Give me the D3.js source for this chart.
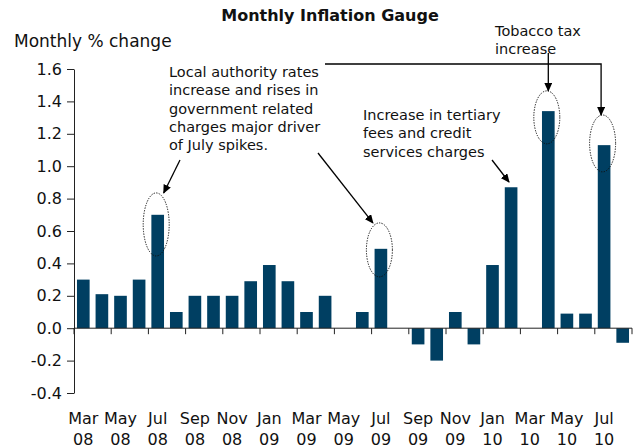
<!DOCTYPE html>
<html>
<head>
<meta charset="utf-8">
<script src="https://cdn.jsdelivr.net/npm/d3@7"></script>
<style>
  body { margin: 0; background: #fff; }
  text { font-family: "DejaVu Sans", Verdana, sans-serif; fill: #111; }
</style>
</head>
<body>
<script>
// monthly % change, Mar 08 .. Aug 10
var months = ["Mar 08","Apr 08","May 08","Jun 08","Jul 08","Aug 08","Sep 08","Oct 08","Nov 08","Dec 08",
              "Jan 09","Feb 09","Mar 09","Apr 09","May 09","Jun 09","Jul 09","Aug 09","Sep 09","Oct 09",
              "Nov 09","Dec 09","Jan 10","Feb 10","Mar 10","Apr 10","May 10","Jun 10","Jul 10","Aug 10"];
var values = [0.30, 0.21, 0.20, 0.30, 0.70, 0.10, 0.20, 0.20, 0.20, 0.29,
              0.39, 0.29, 0.10, 0.20, 0.00, 0.10, 0.49, 0.00, -0.10, -0.20,
              0.10, -0.10, 0.39, 0.87, 0.00, 1.34, 0.09, 0.09, 1.13, -0.09];
var yTicks = [-0.4, -0.2, 0.0, 0.2, 0.4, 0.6, 0.8, 1.0, 1.2, 1.4, 1.6];
var xLabelMonths = months.filter((m, i) => i % 2 == 0);

// highlighted spikes: month, top and bottom of the dotted ring (in % units)
var rings = [
    {month: "Jul 08", top: 0.835, bottom: 0.446},
    {month: "Jul 09", top: 0.650, bottom: 0.317},
    {month: "Apr 10", top: 1.465, bottom: 1.138},
    {month: "Jul 10", top: 1.316, bottom: 0.965}
];

const width = 634;
const height = 448;
const left = 74, right = 632;

var data = months.map((m, i) => ({month: m, value: values[i]}));

var svg = d3.select('body')
            .append('svg')
            .attr('width', width)
            .attr('height', height);

const xScale = d3.scaleBand()
                .domain(months)
                .range([left, right])
                .paddingInner(0.32)
                .paddingOuter(0.16);

const yScale = d3.scaleLinear()
                .domain([-0.4, 1.6])
                .range([393, 69]);

const step = xScale.step();
const mid = (m) => xScale(m) + xScale.bandwidth() / 2;

// arrow head
svg.append('defs').append('marker')
    .attr('id', 'head')
    .attr('markerUnits', 'userSpaceOnUse')
    .attr('markerWidth', 9)
    .attr('markerHeight', 8)
    .attr('refX', 8)
    .attr('refY', 4)
    .attr('orient', 'auto')
  .append('path')
    .attr('d', 'M0,0 L9,4 L0,8 Z')
    .attr('fill', '#000');

// title
svg.append('text')
    .attr('x', 330)
    .attr('y', 21)
    .attr('text-anchor', 'middle')
    .style('font-weight', 'bold')
    .style('font-size', '16px')
    .text('Monthly Inflation Gauge');

// y-axis label
svg.append('text')
    .attr('x', 14)
    .attr('y', 47)
    .style('font-size', '17px')
    .text('Monthly % change');

// bars
svg.append('g')
    .selectAll('rect')
    .data(data)
    .enter()
    .append('rect')
        .attr('x', d => xScale(d.month))
        .attr('y', d => yScale(Math.max(0, d.value)))
        .attr('width', xScale.bandwidth())
        .attr('height', d => Math.abs(yScale(d.value) - yScale(0)))
        .attr('fill', '#003f62');

// y-axis
var yAxis = svg.append('g')
    .attr('transform', `translate(${left}, 0)`)
    .call(d3.axisLeft(yScale)
            .tickValues(yTicks)
            .tickFormat(d => d.toFixed(1))
            .tickSize(7)
            .tickPadding(5)
            .tickSizeOuter(0));
yAxis.selectAll('text')
    .style('font-size', '16px')
    .style('font-family', '"DejaVu Sans", Verdana, sans-serif')
    .attr('fill', '#111');
yAxis.selectAll('line, path').attr('stroke', '#222');

// x-axis along zero
var xAxis = svg.append('g');
xAxis.append('line')
    .attr('x1', left).attr('x2', right)
    .attr('y1', yScale(0)).attr('y2', yScale(0))
    .attr('stroke', '#222');

var tickXs = xLabelMonths.map(m => xScale(m) - step * 0.16).concat([right]);
xAxis.selectAll('.tick')
    .data(tickXs)
    .enter()
    .append('line')
        .attr('x1', d => d).attr('x2', d => d)
        .attr('y1', yScale(0)).attr('y2', yScale(0) + 6)
        .attr('stroke', '#222');

var labels = xAxis.selectAll('.xlab')
    .data(xLabelMonths)
    .enter()
    .append('text')
        .attr('text-anchor', 'middle')
        .style('font-size', '16px');
labels.append('tspan')
    .attr('x', d => mid(d))
    .attr('y', 424)
    .text(d => d.split(' ')[0]);
labels.append('tspan')
    .attr('x', d => mid(d))
    .attr('y', 445)
    .text(d => d.split(' ')[1]);

// dotted rings round the spikes
svg.append('g')
    .selectAll('ellipse')
    .data(rings)
    .enter()
    .append('ellipse')
        .attr('cx', d => mid(d.month) - 1.5)
        .attr('cy', d => (yScale(d.top) + yScale(d.bottom)) / 2)
        .attr('rx', 13)
        .attr('ry', d => (yScale(d.bottom) - yScale(d.top)) / 2)
        .attr('fill', 'none')
        .attr('stroke', '#111')
        .attr('stroke-width', 1)
        .attr('stroke-dasharray', '1.3,1.3');

// annotation texts
function note(x, y, lines) {
    var t = svg.append('text').style('font-size', '14.5px');
    lines.forEach((l, i) => {
        t.append('tspan').attr('x', x).attr('y', y + i * 18.3).text(l);
    });
}
note(169, 77, ["Local authority rates", "increase and rises in", "government related",
               "charges major driver", "of July spikes."]);
note(363, 120, ["Increase in tertiary", "fees and credit", "services charges"]);
note(495, 36, ["Tobacco tax", "increase"]);

// arrows
function ringTop(m) {
    var r = rings.find(d => d.month == m);
    return yScale(r.top);
}
function arrow(d) {
    svg.append('path')
        .attr('d', d)
        .attr('fill', 'none')
        .attr('stroke', '#000')
        .attr('stroke-width', 1.3)
        .attr('marker-end', 'url(#head)');
}
arrow(`M180,160 L${mid("Jul 08") + 6},${ringTop("Jul 08")}`);
arrow(`M318,153 L${mid("Jul 09") - 8},${ringTop("Jul 09")}`);
arrow(`M492,160 L509,182`);
arrow(`M${mid("Apr 10")},53 L${mid("Apr 10")},${ringTop("Apr 10")}`);
arrow(`M325,64 H${mid("Jul 10") - 3} V${ringTop("Jul 10")}`);
</script>
</body>
</html>
